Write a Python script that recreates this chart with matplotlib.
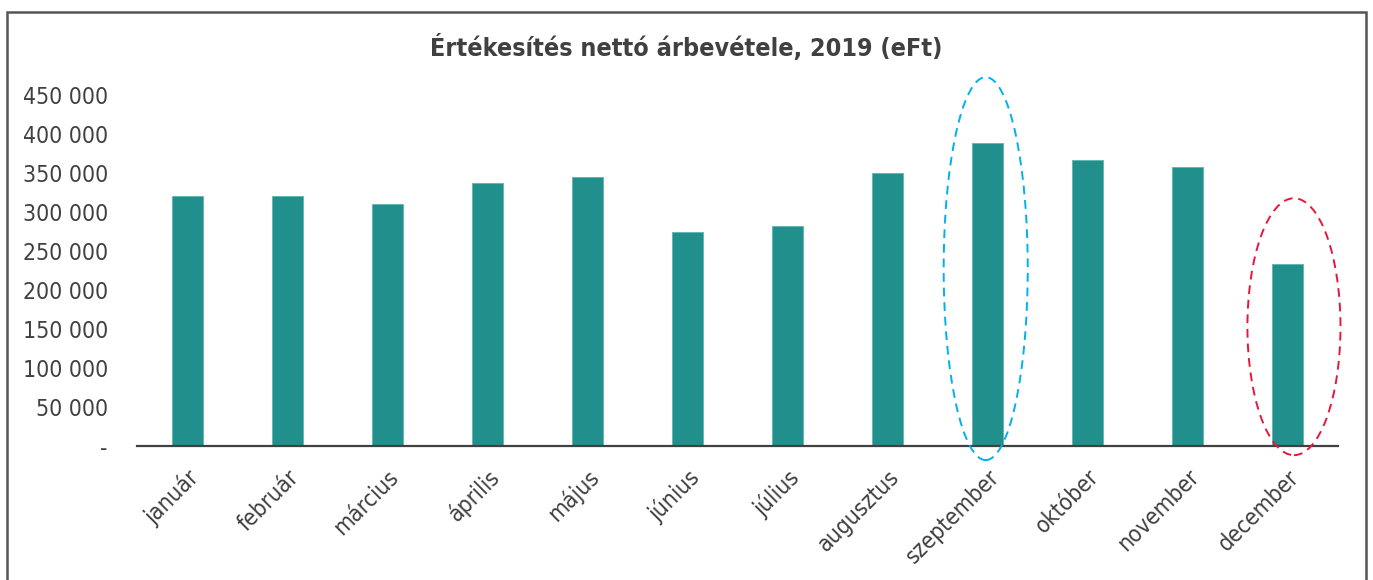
import matplotlib
matplotlib.use("Agg")
import matplotlib.pyplot as plt
from matplotlib.patches import Ellipse, Rectangle
from matplotlib.ticker import FuncFormatter

# data (eFt)
months = ["január", "február", "március", "április", "május", "június",
          "július", "augusztus", "szeptember", "október", "november", "december"]
revenue = [320000, 321000, 311000, 337000, 345000, 275000,
           282000, 350000, 388000, 367000, 358000, 234000]
yticks = [0, 50000, 100000, 150000, 200000, 250000, 300000, 350000, 400000, 450000]
title = "Értékesítés nettó árbevétele, 2019 (eFt)"

BAR = "#21908C"
TXT = "#404040"

plt.rcParams["font.family"] = ["DejaVu Sans"]
plt.rcParams["font.stretch"] = "condensed"

fig = plt.figure(figsize=(13.73, 5.80), dpi=100)
ax = fig.add_axes([0.0998, 0.231, 0.8747, 0.605])

x = list(range(len(months)))
ax.bar(x, revenue, width=0.31, color=BAR, edgecolor="#5fb3ae", linewidth=0.6, zorder=2)

ax.set_xlim(-0.5, len(months) - 0.5)
ax.set_ylim(0, 450000)
ax.set_yticks(yticks)
ax.yaxis.set_major_formatter(FuncFormatter(
    lambda v, p: "-" if v == 0 else f"{int(v):,}".replace(",", " ")))
ax.set_xticks(x)
ax.set_xticklabels(months, rotation=45, ha="right", va="top",
                   rotation_mode="anchor", fontsize=16.5, color=TXT)
ax.tick_params(axis="y", length=0, pad=21, labelsize=16.5, labelcolor=TXT)
ax.tick_params(axis="x", length=0, pad=14)

for s in ["top", "right", "left"]:
    ax.spines[s].set_visible(False)
ax.spines["bottom"].set_color(TXT)
ax.spines["bottom"].set_linewidth(1.6)
ax.spines["bottom"].set_zorder(3)

# highlight ellipses
ax.add_patch(Ellipse((7.98, 227500), 0.84, 491000, fill=False, edgecolor="#00B0F0",
                     linestyle=(0, (4.5, 3)), linewidth=1.4, clip_on=False, zorder=4))
ax.add_patch(Ellipse((11.06, 153000), 0.93, 329500, fill=False, edgecolor="#E8173A",
                     linestyle=(0, (4.5, 3)), linewidth=1.4, clip_on=False, zorder=4))

fig.text(0.4995, 0.918, title, ha="center", va="center", fontsize=18,
         fontweight="bold", color=TXT)

# outer frame of the chart area
fig.add_artist(Rectangle((7 / 1373, -0.05), 1359 / 1373, 1.05 - 12 / 580,
                         transform=fig.transFigure, fill=False,
                         edgecolor="#555555", linewidth=1.8))

fig.savefig("out.png", dpi=100)
